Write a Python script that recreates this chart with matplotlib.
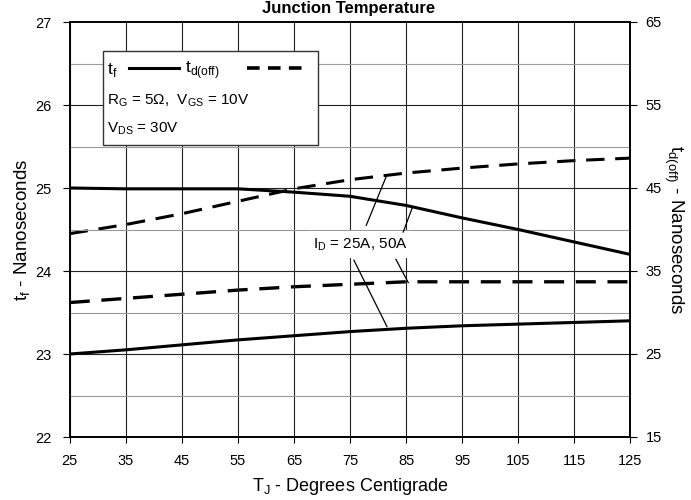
import matplotlib
matplotlib.use("Agg")
import matplotlib.pyplot as plt
import numpy as np

plt.rcParams["font.family"] = ["Liberation Sans", "DejaVu Sans"]

# Datos
temp = [25, 35, 45, 55, 65, 75, 85, 95, 105, 115, 125]
tf_50a = [25.0, 24.99, 24.99, 24.99, 24.95, 24.9, 24.79, 24.64, 24.5, 24.35, 24.2]
tf_25a = [23.0, 23.05, 23.11, 23.17, 23.22, 23.27, 23.31, 23.34, 23.36, 23.38, 23.4]
td_50a = [39.5, 40.6, 41.9, 43.4, 44.9, 46.0, 46.8, 47.4, 47.9, 48.3, 48.6]
td_25a = [31.2, 31.7, 32.2, 32.7, 33.1, 33.4, 33.7, 33.7, 33.7, 33.7, 33.7]

xticks = list(range(25, 126, 10))
yticks_left = [22, 23, 24, 25, 26, 27]
yticks_right = [15, 25, 35, 45, 55, 65]

fig = plt.figure(figsize=(6.91, 5.0), dpi=100)
ax = fig.add_axes([0.101, 0.126, 0.811, 0.830])
ax2 = ax.twinx()

ax.set_xlim(25, 125)
ax.set_ylim(22, 27)
ax2.set_ylim(15, 65)

# Rejilla
for x in xticks:
    ax.axvline(x, color="#222222", lw=0.8, zorder=1)
for y in np.arange(22.5, 27, 1.0):
    ax.axhline(y, color="#9a9a9a", lw=0.8, zorder=1)
for y in yticks_left[1:-1]:
    ax.axhline(y, color="#222222", lw=0.8, zorder=1)

# Curvas
ax.plot(temp, tf_50a, color="black", lw=2.2, zorder=3)
ax.plot(temp, tf_25a, color="black", lw=2.2, zorder=3)
ax2.plot(temp, td_50a, color="black", lw=2.2, dashes=(6, 3.5), zorder=3)
ax2.plot(temp, td_25a, color="black", lw=2.4, dashes=(6, 3.5), zorder=3)

ax.set_xticks(xticks)
ax.set_yticks(yticks_left)
ax2.set_yticks(yticks_right)
ax.tick_params(axis="x", direction="out", length=4, width=0.8, labelsize=10.5, pad=8)
ax.tick_params(axis="y", direction="out", length=5, width=0.8, labelsize=10.5, pad=8)
ax2.tick_params(axis="y", direction="out", length=5, width=0.8, labelsize=10.5, pad=6)
for a in (ax, ax2):
    for s in a.spines.values():
        s.set_linewidth(1.2)

ax.set_xlabel("T$_{\\mathregular{J}}$ - Degrees Centigrade", fontsize=13, labelpad=6)
ax.set_ylabel("t$_{\\mathregular{ f}}$ - Nanoseconds", fontsize=13.5, labelpad=2)
ax2.set_ylabel("t$_{\\mathregular{d(off)}}$ - Nanoseconds", fontsize=13.5,
               rotation=270, labelpad=17)

ax.set_zorder(ax2.get_zorder() + 1)
ax.patch.set_visible(False)

# Cuadro de leyenda
box = plt.Rectangle((30.9, 25.52), 38.4, 1.13, facecolor="white",
                    edgecolor="#333333", lw=1.0, zorder=4)
ax.add_patch(box)
ax.text(31.6, 26.42, "t$_{\\mathregular{ f}}$", fontsize=12.5, va="center", zorder=5)
ax.plot([35.5, 44.5], [26.45, 26.45], color="black", lw=2.2, zorder=5)
ax.text(45.5, 26.42, "t$_{\\mathregular{d(off)}}$", fontsize=12.5, va="center", zorder=5)
ax.plot([56.6, 67.2], [26.45, 26.45], color="black", lw=2.6, dashes=(3.5, 2.3), zorder=5)
ax.text(31.6, 26.05, "R$_{\\mathregular{G}}$ = 5\u03a9,  V$_{\\mathregular{GS}}$ = 10V",
        fontsize=11, va="center", zorder=5)
ax.text(31.6, 25.72, "V$_{\\mathregular{DS}}$ = 30V", fontsize=11, va="center", zorder=5)

# Anotacion de corriente
ax.text(76.8, 24.32, "I$_{\\mathregular{ D}}$ = 25A, 50A", fontsize=11, ha="center",
        va="center", zorder=5,
        bbox=dict(facecolor="white", edgecolor="none", pad=4))
leaders = [((77.9, 24.55), (81.6, 25.16)),
           ((84.5, 24.47), (86.1, 24.76)),
           ((75.7, 24.13), (81.6, 23.33)),
           ((83.2, 24.14), (85.4, 23.86))]
for p0, p1 in leaders:
    ax.plot([p0[0], p1[0]], [p0[1], p1[1]], color="black", lw=0.9, zorder=5)

fig.text(0.505, 0.999, "Junction Temperature", ha="center", va="top",
         fontsize=12, fontweight="bold")

fig.savefig("out.png", dpi=100)
